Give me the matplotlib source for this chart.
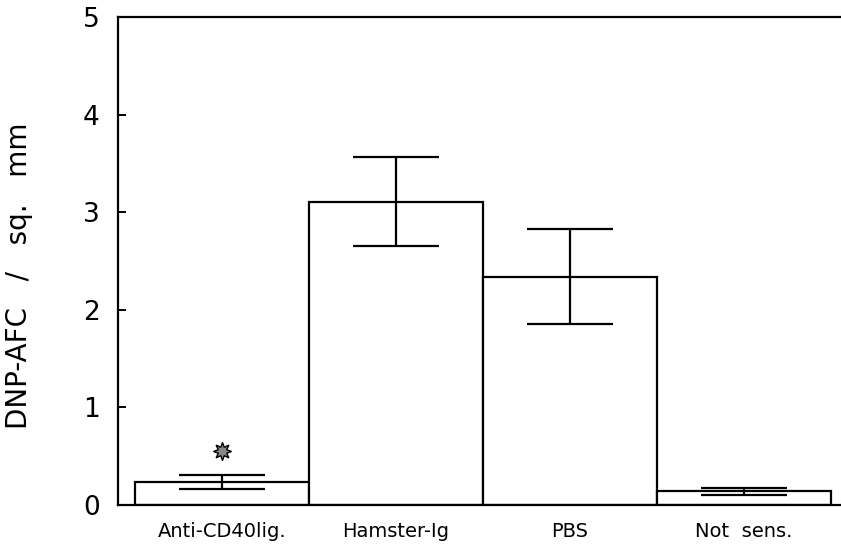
import matplotlib
matplotlib.use("Agg")
import matplotlib.pyplot as plt
import numpy as np

# bar heights with standard errors
groups = ["Anti-CD40lig.", "Hamster-Ig", "PBS", "Not  sens."]
means = [0.235, 3.105, 2.34, 0.14]
errors = [0.07, 0.455, 0.49, 0.037]
star_group = 0
star_height = 0.555

plt.rcParams["font.family"] = ["DejaVu Sans"]

fig = plt.figure(figsize=(8.41, 5.51), dpi=100)
ax = fig.add_axes([0.1403, 0.0835, 0.8597, 0.8858])

x = np.arange(len(groups))
ax.bar(x, means, width=1.0, color="white", edgecolor="black", linewidth=1.6)
ax.errorbar(x, means, yerr=errors, fmt="none", ecolor="black",
            elinewidth=1.6, capsize=31, capthick=1.6)

# significance marker over the first group
ax.plot(star_group, star_height, marker=(8, 1, 0), markersize=13,
        markerfacecolor="#888888", markeredgecolor="black", markeredgewidth=1.0)

ax.set_xlim(-0.598, 3.557)
ax.set_ylim(0, 5)
ax.set_xticks(x)
ax.set_xticklabels(groups, fontsize=14)
ax.set_yticks(range(6))
ax.tick_params(axis="x", length=0, pad=12)
ax.tick_params(axis="y", direction="in", length=6, width=1.4, labelsize=19, pad=13)

for side in ["left", "top", "bottom"]:
    ax.spines[side].set_linewidth(1.6)
ax.spines["right"].set_visible(False)

ax.set_ylabel("DNP-AFC   /   sq.   mm", fontsize=20)
ax.yaxis.set_label_coords(-0.117, 0.47)

fig.savefig("out.png", dpi=100)
